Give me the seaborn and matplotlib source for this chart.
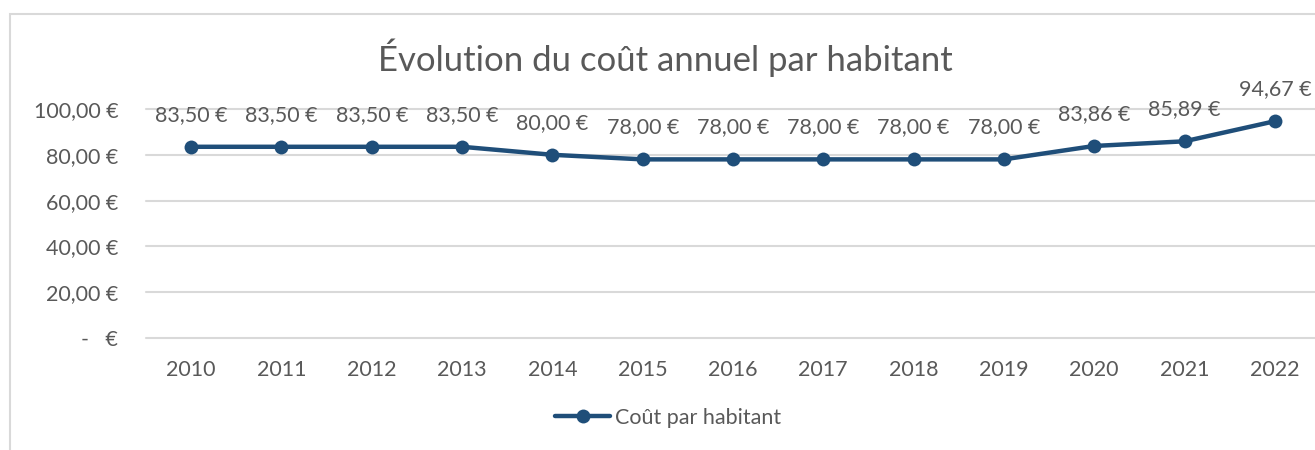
import matplotlib
matplotlib.use("Agg")
import matplotlib.pyplot as plt
import matplotlib.patches as mpatches
import seaborn as sns
import pandas as pd

# Annual cost per inhabitant
annees = [2010, 2011, 2012, 2013, 2014, 2015, 2016, 2017, 2018, 2019, 2020, 2021, 2022]
cout = [83.50, 83.50, 83.50, 83.50, 80.00, 78.00, 78.00, 78.00, 78.00, 78.00, 83.86, 85.89, 94.67]
y_ticks = [0, 20, 40, 60, 80, 100]
serie = "Coût par habitant"
titre = "Évolution du coût annuel par habitant"

BLEU = "#1F4E79"
GRIS_TEXTE = "#595959"
GRIS_GRILLE = "#D9D9D9"
FS = 15.5


def euro(v):
    if v == 0:
        return "-   €"
    return f"{v:,.2f}".replace(",", " ").replace(".", ",") + " €"


df = pd.DataFrame({"annee": annees, serie: cout})

sns.set_theme(style="white")
plt.rcParams["font.family"] = ["Lato", "DejaVu Sans"]

W, H = 1315, 450
fig = plt.figure(figsize=(W / 100, H / 100), dpi=100)
ax = fig.add_axes([146 / W, 1 - 338 / H, (1320 - 146) / W, (338 - 109) / H])

sns.lineplot(data=df, x="annee", y=serie, ax=ax, color=BLEU, linewidth=3.2,
             marker="o", markersize=10, markeredgewidth=0, label=serie,
             clip_on=False, zorder=3)

for x, v in zip(annees, cout):
    ax.annotate(euro(v), (x, v), xytext=(0, 23), textcoords="offset points",
                ha="center", va="center", fontsize=FS, color=GRIS_TEXTE)

ax.set_xlim(annees[0] - 0.5, annees[-1] + 0.5)
ax.set_ylim(0, 100)
ax.set_xticks(annees)
ax.set_xticklabels([str(a) for a in annees])
ax.set_yticks(y_ticks)
ax.set_yticklabels([euro(v) for v in y_ticks])
ax.tick_params(axis="x", length=0, pad=16, labelsize=FS, labelcolor=GRIS_TEXTE)
ax.tick_params(axis="y", length=0, pad=20, labelsize=FS, labelcolor=GRIS_TEXTE)
ax.yaxis.grid(True, color=GRIS_GRILLE, linewidth=1.5)
for gl in ax.get_ygridlines():
    gl.set_clip_on(False)
ax.xaxis.grid(False)
for s in ax.spines.values():
    s.set_visible(False)
ax.set_xlabel("")
ax.set_ylabel("")

fig.text(665 / W, 1 - 58 / H, titre, ha="center", va="center", fontsize=25,
         color=GRIS_TEXTE)

leg = ax.legend(loc="center", bbox_to_anchor=(668 / W, 1 - 418 / H),
                bbox_transform=fig.transFigure, frameon=False, fontsize=FS,
                handlelength=2.55, handletextpad=0.2, labelcolor=GRIS_TEXTE)

# Chart-area border
fig.patches.append(mpatches.Rectangle((10 / W, -0.1), 1.1, 1 - 14 / H + 0.1,
                                      transform=fig.transFigure, fill=False,
                                      edgecolor=GRIS_GRILLE, linewidth=1.5))

fig.savefig("out.png", dpi=100, facecolor="white")
